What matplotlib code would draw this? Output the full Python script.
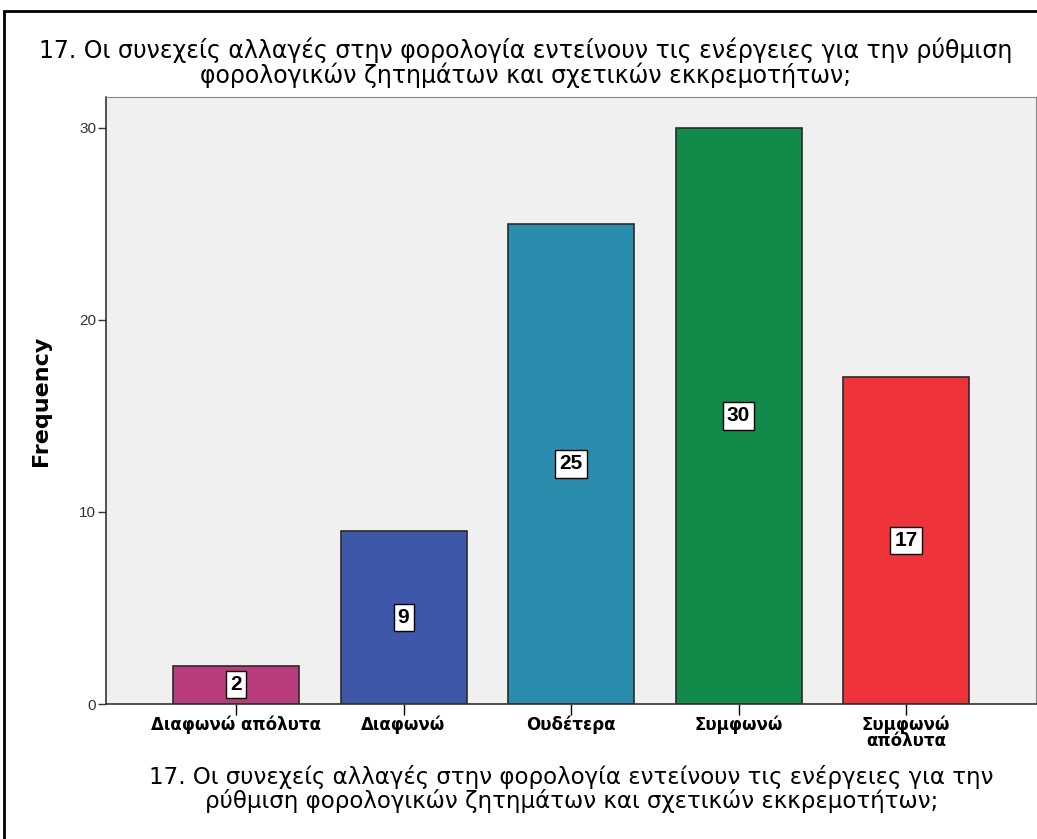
import matplotlib.pyplot as plt
from matplotlib.patches import Rectangle

plt.rcParams['font.family'] = ['DejaVu Sans']

categories = ["Διαφωνώ απόλυτα", "Διαφωνώ", "Ουδέτερα", "Συμφωνώ", "Συμφωνώ\nαπόλυτα"]
counts = [2, 9, 25, 30, 17]
bar_colors = ["#B93D7C", "#3E57A8", "#2A8DAE", "#128A4A", "#EE333B"]
y_ticks = [0, 10, 20, 30]
question = "17. Οι συνεχείς αλλαγές στην φορολογία εντείνουν τις ενέργειες για την ρύθμιση\nφορολογικών ζητημάτων και σχετικών εκκρεμοτήτων;"
x_title = "17. Οι συνεχείς αλλαγές στην φορολογία εντείνουν τις ενέργειες για την\nρύθμιση φορολογικών ζητημάτων και σχετικών εκκρεμοτήτων;"

fig = plt.figure(figsize=(10.37, 8.39), dpi=100)
ax = fig.add_axes([0.1022, 0.1609, 0.8970, 0.7235])
ax.set_facecolor("#F0F0F0")

# outer frame around the chart
fig.patches.append(Rectangle((4 / 1037, -0.1), 1.2, 1 - 11 / 839 + 0.1,
                             transform=fig.transFigure, fill=False,
                             edgecolor="black", linewidth=2))

x = range(len(categories))
ax.bar(x, counts, width=0.752, color=bar_colors, edgecolor="#2b2b2b", linewidth=1.2, zorder=2)

for i, v in enumerate(counts):
    ax.text(i, v / 2, str(v), ha="center", va="center", fontsize=15, fontweight="bold",
            family=["Liberation Sans", "DejaVu Sans"],
            bbox=dict(boxstyle="square,pad=0.2", facecolor="white", edgecolor="black", linewidth=1),
            zorder=3)

ax.set_xlim(-0.776, 4.776)
ax.set_ylim(0, 31.6)
ax.set_yticks(y_ticks)
ax.set_xticks(list(x))
ax.set_xticklabels(categories, fontsize=12, fontweight="bold", linespacing=0.9)
ax.tick_params(axis="y", length=6, width=1, labelsize=11, colors="#333333", labelcolor="#333333", pad=1)
ax.tick_params(axis="x", length=8, width=1, pad=0)
for lbl in ax.get_yticklabels():
    lbl.set_family(["Liberation Sans", "DejaVu Sans"])

for side in ["top", "right"]:
    ax.spines[side].set_color("#888888")
for side in ["left", "bottom"]:
    ax.spines[side].set_color("#333333")
    ax.spines[side].set_linewidth(1.2)

ax.set_ylabel("Frequency", fontsize=16, fontweight="bold", labelpad=20)
fig.text(0.507, 0.955, question, ha="center", va="top", fontsize=17, linespacing=0.97)
fig.text(0.551, 0.088, x_title, ha="center", va="top", fontsize=16.5, linespacing=0.97)

fig.savefig("out.png", dpi=100)
